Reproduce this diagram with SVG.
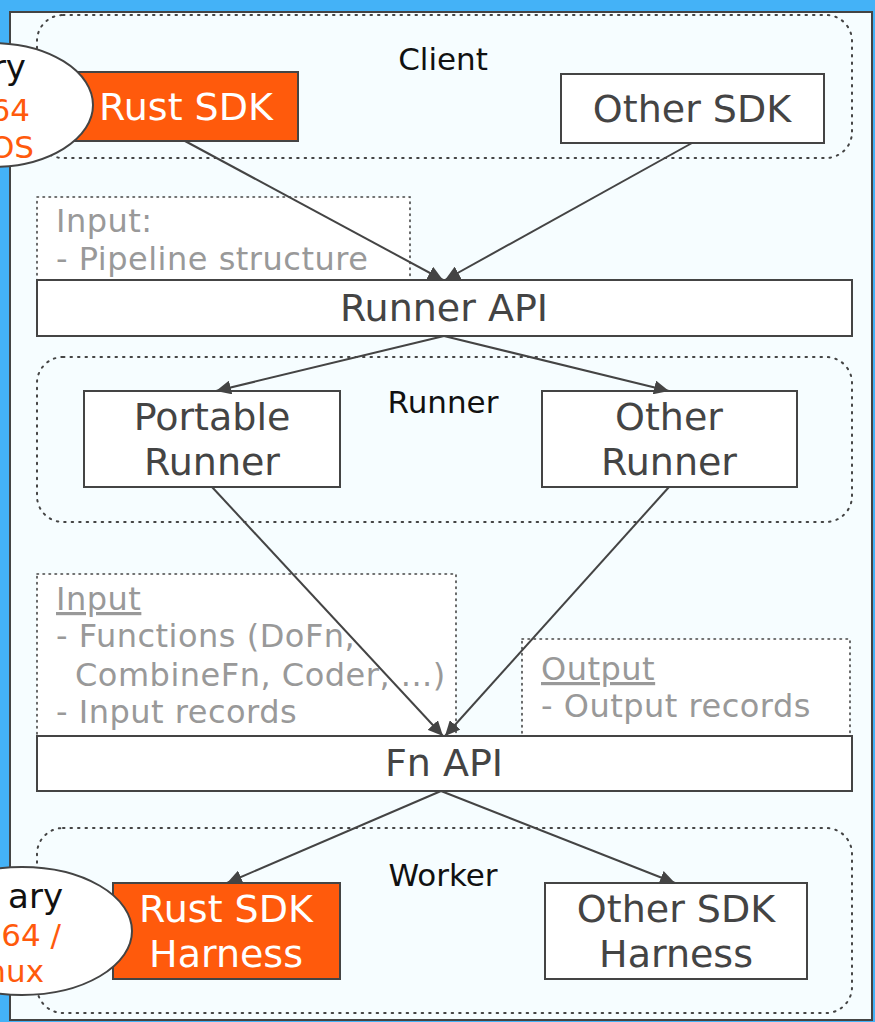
<svg xmlns="http://www.w3.org/2000/svg" width="875" height="1022" viewBox="0 0 875 1022">
<style>
text{font-family:"DejaVu Sans","Liberation Sans",sans-serif;}
.box{fill:#ffffff;stroke:#444;stroke-width:2;}
.rust{fill:#ff5a0c;stroke:#444;stroke-width:2;}
.grp{fill:none;stroke:#444;stroke-width:2;stroke-dasharray:1.5 6;stroke-linecap:round;}
.note{fill:#ffffff;stroke:#444;stroke-width:1.6;stroke-dasharray:1.5 4.5;stroke-linecap:round;}
.lbl{font-size:38px;fill:#444;text-anchor:middle;}
.wlbl{font-size:38px;fill:#ffffff;text-anchor:middle;}
.glbl{font-size:31px;fill:#111;text-anchor:middle;}
.ntxt{font-size:32px;fill:#999;letter-spacing:0.5px;}
.ell{fill:#ffffff;stroke:#444;stroke-width:2;}
.otxt{font-size:31px;fill:#ff5a0c;text-anchor:end;}
.btxt{font-size:34px;fill:#111;text-anchor:end;}
.conn{stroke:#444;stroke-width:2;fill:none;marker-end:url(#ah);}
</style>
<defs>
<marker id="ah" markerUnits="userSpaceOnUse" markerWidth="16" markerHeight="14" refX="15" refY="7" orient="auto">
<path d="M0,0 L15,7 L0,14 Z" fill="#444"/>
</marker>
</defs>
<rect x="0" y="0" width="875" height="1022" fill="#44b2f7"/>
<rect x="10" y="12" width="862" height="1008" fill="#f6fdff" stroke="#444" stroke-width="2"/>

<g id="client-group">
<rect class="grp" x="37" y="15" width="815" height="143" rx="26"/>
<text class="glbl" x="443" y="70">Client</text>
</g>
<g id="runner-group">
<rect class="grp" x="37" y="357" width="815" height="165" rx="26"/>
<text class="glbl" x="443" y="413">Runner</text>
</g>
<g id="worker-group">
<rect class="grp" x="37" y="828" width="815" height="185" rx="26"/>
<text class="glbl" x="443" y="886">Worker</text>
</g>

<g id="input-note">
<rect class="note" x="37" y="197" width="373" height="83"/>
<text class="ntxt" x="56" y="232">Input:</text>
<text class="ntxt" x="56" y="270">- Pipeline structure</text>
</g>
<g id="input-note-2">
<rect class="note" x="37" y="574" width="419" height="162"/>
<text class="ntxt" x="56" y="610" text-decoration="underline">Input</text>
<text class="ntxt" x="56" y="647">- Functions (DoFn,</text>
<text class="ntxt" x="75" y="686">CombineFn, Coder, ...)</text>
<text class="ntxt" x="56" y="723">- Input records</text>
</g>
<g id="output-note">
<rect class="note" x="522" y="639" width="328" height="97"/>
<text class="ntxt" x="541" y="680" text-decoration="underline">Output</text>
<text class="ntxt" x="541" y="717">- Output records</text>
</g>

<g id="rust-sdk">
<rect class="rust" x="73" y="72" width="225" height="69"/>
<text class="wlbl" x="186" y="120">Rust SDK</text>
</g>
<g id="other-sdk">
<rect class="box" x="561" y="74" width="263" height="69"/>
<text class="lbl" x="692" y="122">Other SDK</text>
</g>
<g id="runner-api">
<rect class="box" x="37" y="280" width="815" height="56"/>
<text class="lbl" x="444" y="321">Runner API</text>
</g>
<g id="portable-runner">
<rect class="box" x="84" y="391" width="256" height="96"/>
<text class="lbl" x="212" y="430">Portable</text>
<text class="lbl" x="212" y="475">Runner</text>
</g>
<g id="other-runner">
<rect class="box" x="542" y="391" width="255" height="96"/>
<text class="lbl" x="669" y="430">Other</text>
<text class="lbl" x="669" y="475">Runner</text>
</g>
<g id="fn-api">
<rect class="box" x="37" y="736" width="815" height="55"/>
<text class="lbl" x="444" y="776">Fn API</text>
</g>
<g id="rust-harness">
<rect class="rust" x="113" y="883" width="227" height="96"/>
<text class="wlbl" x="226" y="922">Rust SDK</text>
<text class="wlbl" x="226" y="967">Harness</text>
</g>
<g id="other-harness">
<rect class="box" x="545" y="883" width="262" height="96"/>
<text class="lbl" x="676" y="922">Other SDK</text>
<text class="lbl" x="676" y="967">Harness</text>
</g>

<g id="binary-mac">
<ellipse class="ell" cx="-8" cy="105" rx="101" ry="62"/>
<text class="btxt" x="26" y="79">ry</text>
<text class="otxt" x="30" y="121">64</text>
<text class="otxt" x="34" y="158">OS</text>
</g>
<g id="binary-linux">
<ellipse class="ell" cx="22" cy="931" rx="110" ry="64"/>
<text class="btxt" x="63" y="908">ary</text>
<text class="otxt" x="61" y="946">-64 /</text>
<text class="otxt" x="44" y="982">nux</text>
</g>

<g id="connectors">
<line class="conn" x1="185" y1="141" x2="443" y2="280"/>
<line class="conn" x1="692" y1="143" x2="445" y2="280"/>
<line class="conn" x1="444" y1="336" x2="216" y2="391"/>
<line class="conn" x1="444" y1="336" x2="669" y2="391"/>
<line class="conn" x1="212" y1="487" x2="443" y2="736"/>
<line class="conn" x1="669" y1="487" x2="445" y2="736"/>
<line class="conn" x1="441" y1="791" x2="227" y2="883"/>
<line class="conn" x1="441" y1="791" x2="675" y2="883"/>
</g>
</svg>
